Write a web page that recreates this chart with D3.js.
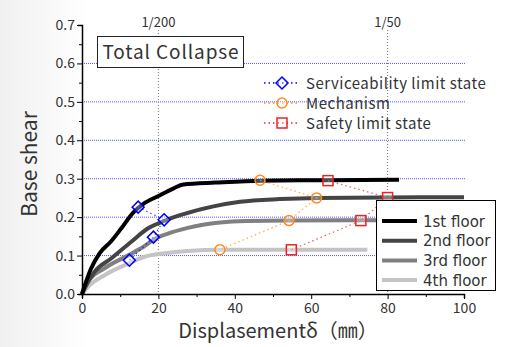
<!DOCTYPE html>
<html lang="en">
<head>
<meta charset="UTF-8">
<title>Base shear - displacement</title>
<script src="https://cdn.jsdelivr.net/npm/d3@7/dist/d3.min.js"></script>
<style>
  body { margin: 0; background: #fff; }
  text { font-family: "Noto Sans CJK JP", "Noto Sans", sans-serif; fill: #333; }
</style>
</head>
<body>
<script>
    // curves [displacement mm, base shear]
    var floor1 = [[0,0],[1,0.03],[2.4,0.067],[4.6,0.106],[7.7,0.138],[10.3,0.171],[13.4,0.212],[16,0.234],[20,0.255],[24,0.275],[26.5,0.285],[35,0.29],[47,0.295],[64,0.296],[83,0.297]];
    var floor2 = [[0,0],[0.7,0.015],[3.3,0.058],[7.7,0.093],[12.9,0.136],[17.3,0.171],[21.5,0.19],[25.7,0.205],[34.4,0.228],[41.4,0.24],[51.8,0.247],[61.4,0.25],[100,0.252]];
    var floor3 = [[0,0],[1.6,0.032],[5.9,0.067],[12,0.1],[16.4,0.125],[18.8,0.142],[22.5,0.157],[27.7,0.172],[36.1,0.186],[43.1,0.19],[54,0.191],[80,0.192]];
    var floor4 = [[0,0],[1.6,0.019],[5.9,0.049],[11.2,0.075],[16.4,0.097],[21.6,0.106],[27.7,0.112],[36.1,0.115],[74.7,0.115]];
    var floorNames = ["1st floor", "2nd floor", "3rd floor", "4th floor"];
    var floorColors = ["#000000", "#444444", "#808080", "#c4c4c4"];

    // limit state points, 1st..4th floor
    var serviceability = [[14.7,0.226],[21.5,0.193],[18.7,0.148],[12.4,0.088]];
    var mechanism = [[46.6,0.296],[61.4,0.25],[54.2,0.191],[36.1,0.115]];
    var safety = [[64.4,0.295],[80,0.251],[73,0.191],[54.8,0.115]];
    var stateNames = ["Serviceability limit state", "Mechanism", "Safety limit state"];

    var xTicks = [0, 20, 40, 60, 80, 100];
    var gridValues = [0.1, 0.2, 0.3, 0.4, 0.5, 0.6];
    var driftLines = [[20, "1/200"], [80, "1/50"]];

    var width = 508, height = 347;
    var svg = d3.select("body").append("svg")
            .attr("width", width)
            .attr("height", height);

    // faint background shading on the left
    var defs = svg.append("defs");
    var grad = defs.append("linearGradient").attr("id", "bg").attr("x1", 0).attr("x2", 1);
    grad.append("stop").attr("offset", 0).attr("stop-color", "#f0f0f0");
    grad.append("stop").attr("offset", 1).attr("stop-color", "#ffffff");
    svg.append("rect").attr("width", 90).attr("height", height).attr("fill", "url(#bg)");

    var x = d3.scaleLinear().domain([0, 100]).range([82, 464]);
    var y = d3.scaleLinear().domain([0, 0.7]).range([294, 25]);

    // horizontal grid
    svg.selectAll(".grid").data(gridValues).enter().append("line")
            .attr("x1", x(0)).attr("x2", 466)
            .attr("y1", function (d) { return y(d); })
            .attr("y2", function (d) { return y(d); })
            .attr("stroke", "#5555ff").attr("stroke-width", 1)
            .attr("stroke-dasharray", "1,1");

    // drift lines
    driftLines.forEach(function (d) {
        svg.append("line")
                .attr("x1", x(d[0])).attr("x2", x(d[0]))
                .attr("y1", 30).attr("y2", y(0))
                .attr("stroke", "#777").attr("stroke-width", 1)
                .attr("stroke-dasharray", "1,2");
        svg.append("text")
                .attr("x", x(d[0])).attr("y", 27)
                .attr("text-anchor", "middle")
                .attr("font-size", 13)
                .text(d[1]);
    });

    var line = d3.line()
            .x(function (d) { return x(d[0]); })
            .y(function (d) { return y(d[1]); })
            .curve(d3.curveMonotoneX);

    var floors = [floor1, floor2, floor3, floor4];
    // draw from 4th to 1st so the dark line sits on top
    for (var i = floors.length - 1; i >= 0; i--) {
        svg.append("path")
                .attr("d", line(floors[i]))
                .attr("fill", "none")
                .attr("stroke", floorColors[i])
                .attr("stroke-width", 4);
    }

    var straight = d3.line()
            .x(function (d) { return x(d[0]); })
            .y(function (d) { return y(d[1]); });

    var states = [
        {pts: serviceability, color: "#0000ff", shape: "diamond"},
        {pts: mechanism, color: "#ff8c1a", shape: "circle"},
        {pts: safety, color: "#ee2222", shape: "square"}
    ];

    function marker(g, shape, color, cx, cy) {
        if (shape == "diamond") {
            g.append("path")
                    .attr("d", "M" + cx + "," + (cy - 6) + "L" + (cx + 6) + "," + cy + "L" + cx + "," + (cy + 6) + "L" + (cx - 6) + "," + cy + "Z")
                    .attr("fill", "#fff").attr("fill-opacity", 0.3)
                    .attr("stroke", color).attr("stroke-width", 1.5);
        } else if (shape == "circle") {
            g.append("circle").attr("cx", cx).attr("cy", cy).attr("r", 5)
                    .attr("fill", "#fff").attr("fill-opacity", 0.3)
                    .attr("stroke", color).attr("stroke-width", 1.5);
        } else {
            g.append("rect").attr("x", cx - 5).attr("y", cy - 5)
                    .attr("width", 10).attr("height", 10)
                    .attr("fill", "#fff").attr("fill-opacity", 0.3)
                    .attr("stroke", color).attr("stroke-width", 1.5);
        }
    }

    states.forEach(function (s) {
        svg.append("path")
                .attr("d", straight(s.pts))
                .attr("fill", "none")
                .attr("stroke", s.color)
                .attr("stroke-opacity", 0.7)
                .attr("stroke-width", 1.3)
                .attr("stroke-dasharray", "1.5,3");
    });
    states.forEach(function (s) {
        s.pts.forEach(function (p) {
            marker(svg, s.shape, s.color, x(p[0]), y(p[1]));
        });
    });

    // axes
    var xAxis = d3.axisBottom(x).tickValues(d3.range(0, 101, 10))
            .tickSize(4).tickFormat(function (d) { return xTicks.indexOf(d) >= 0 ? d : ""; });
    var gx = svg.append("g").attr("transform", "translate(0," + y(0) + ")").call(xAxis);
    gx.select(".domain").attr("stroke", "#000").attr("stroke-width", 1.5);
    gx.selectAll(".tick line").attr("stroke", "#000")
            .attr("y2", function (d) { return d % 20 == 0 ? 5 : 3; });
    gx.selectAll(".tick text").attr("font-size", 14).attr("y", 9)
            .style("font-family", "'Noto Sans CJK JP', sans-serif").attr("fill", "#444");

    var yAxis = d3.axisLeft(y).tickValues(d3.range(0, 0.71, 0.05))
            .tickSize(4).tickFormat(function (d) {
                var k = Math.round(d * 100);
                return k % 10 == 0 ? d3.format(".1f")(d) : "";
            });
    var gy = svg.append("g").attr("transform", "translate(" + x(0) + ",0)").call(yAxis);
    gy.select(".domain").attr("stroke", "#000").attr("stroke-width", 1.5);
    gy.selectAll(".tick line").attr("stroke", "#000")
            .attr("x2", function (d) { return Math.round(d * 100) % 10 == 0 ? -5 : -3; });
    gy.selectAll(".tick text").attr("font-size", 14).attr("x", -7)
            .style("font-family", "'Noto Sans CJK JP', sans-serif").attr("fill", "#444");

    // axis titles
    svg.append("text")
            .attr("x", 278).attr("y", 338)
            .attr("text-anchor", "middle")
            .attr("font-size", 20)
            .attr("fill", "#444")
            .text("Displasementδ（㎜）");
    svg.append("text")
            .attr("transform", "translate(37,164) rotate(-90)")
            .attr("text-anchor", "middle")
            .attr("font-size", 21)
            .attr("fill", "#444")
            .text("Base shear");

    // title box
    svg.append("rect")
            .attr("x", 97.5).attr("y", 36.5).attr("width", 146).attr("height", 31)
            .attr("fill", "#fff").attr("stroke", "#222").attr("stroke-width", 1);
    svg.append("text")
            .attr("x", 171).attr("y", 59)
            .attr("text-anchor", "middle")
            .attr("font-size", 19)
            .attr("letter-spacing", 0.9)
            .text("Total Collapse");

    // limit state legend
    states.forEach(function (s, i) {
        var ly = 83 + i * 20;
        svg.append("line")
                .attr("x1", 264).attr("x2", 298).attr("y1", ly).attr("y2", ly)
                .attr("stroke", s.color).attr("stroke-width", 1.3)
                .attr("stroke-dasharray", "1.5,3");
        marker(svg, s.shape, s.color, 282, ly);
        svg.append("text")
                .attr("x", 306).attr("y", ly + 5.5)
                .attr("font-size", 15)
                .attr("letter-spacing", 0.5)
                .text(stateNames[i]);
    });

    // floor legend
    svg.append("rect")
            .attr("x", 376.5).attr("y", 200.5).attr("width", 119).attr("height", 90)
            .attr("fill", "#fff").attr("stroke", "#000").attr("stroke-width", 1);
    floorNames.forEach(function (name, i) {
        var ly = 221 + i * 19.7;
        svg.append("line")
                .attr("x1", 382).attr("x2", 417).attr("y1", ly).attr("y2", ly)
                .attr("stroke", floorColors[i]).attr("stroke-width", 4);
        svg.append("text")
                .attr("x", 423).attr("y", ly + 5.5)
                .attr("font-size", 15)
                .style("font-family", "'DejaVu Sans', sans-serif")
                .attr("fill", "#444")
                .text(name);
    });
</script>
</body>
</html>
